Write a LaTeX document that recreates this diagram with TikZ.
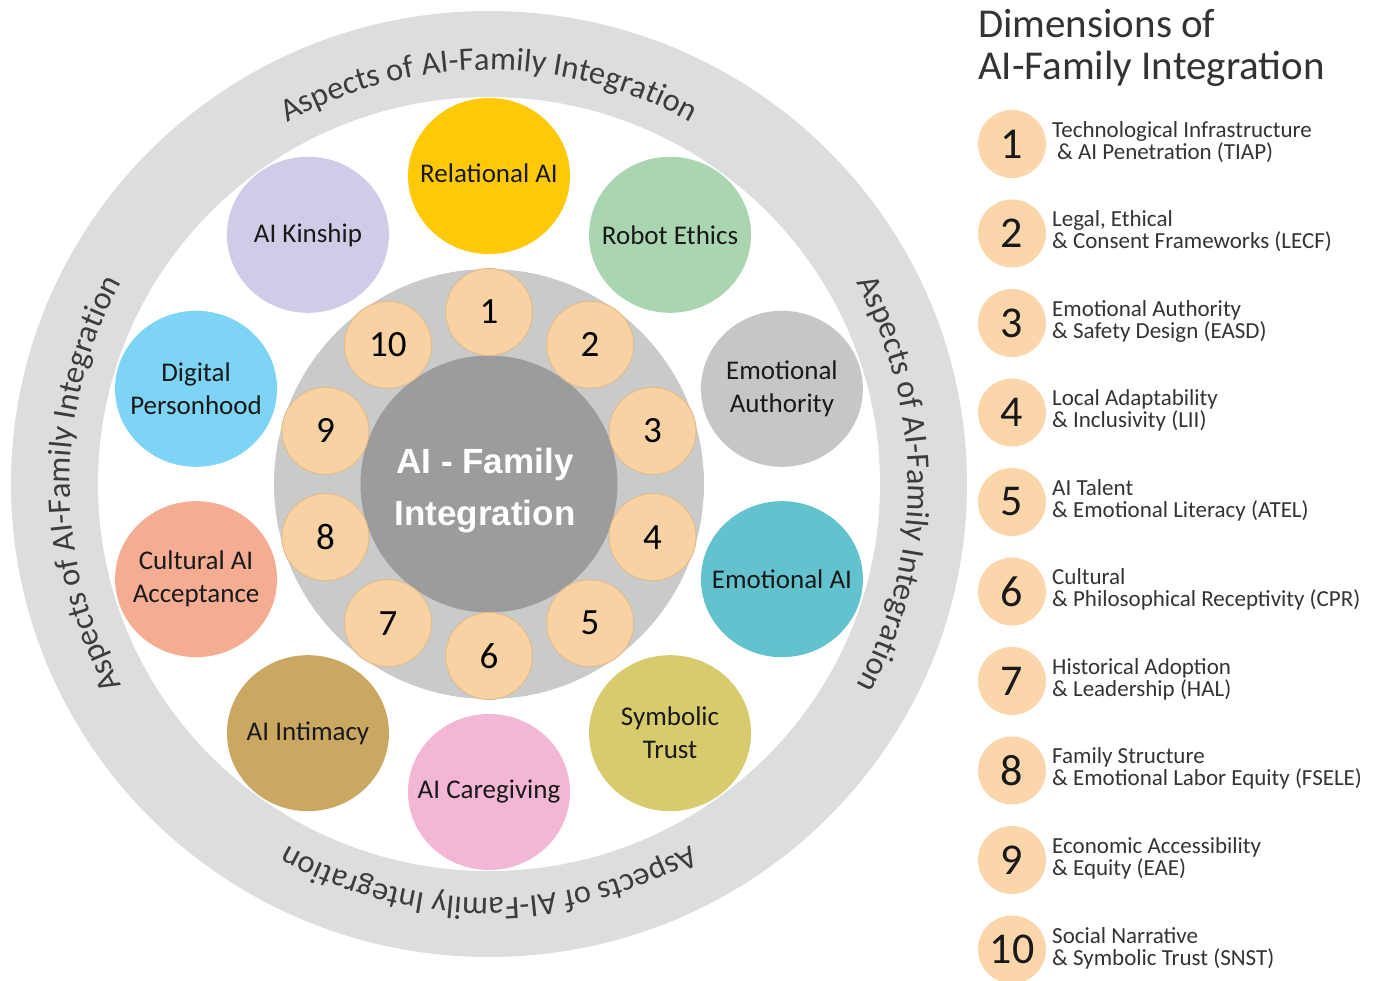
\documentclass[tikz,border=0pt]{standalone}
\usepackage{fontspec}
\setmainfont{Carlito}
\newfontfamily\arialfont{Liberation Sans}
\usetikzlibrary{decorations.text,calc,shapes.geometric}
\definecolor{ringgray}{HTML}{DCDDDD}
\definecolor{diskgray}{HTML}{C9CACA}
\definecolor{coregray}{HTML}{9C9C9C}
\definecolor{peach}{HTML}{F8D2A2}
\definecolor{peachedge}{HTML}{E3BC8E}
\definecolor{legpeach}{HTML}{FAD6AA}
\definecolor{ringtext}{HTML}{3C3C3C}
\definecolor{legtext}{HTML}{333333}
\definecolor{cRel}{HTML}{FFC907}
\definecolor{cRob}{HTML}{A9D6B0}
\definecolor{cEmA}{HTML}{C6C6C6}
\definecolor{cEmo}{HTML}{62C3CE}
\definecolor{cSym}{HTML}{D8CB6E}
\definecolor{cCar}{HTML}{F3B6D5}
\definecolor{cInt}{HTML}{CBA862}
\definecolor{cCul}{HTML}{F4AD92}
\definecolor{cDig}{HTML}{7DD4F4}
\definecolor{cKin}{HTML}{D0CBE7}
\newcommand\ringfont{\fontsize{32.5}{32.5}\selectfont\color{ringtext}}
\newcommand\legitem[3]{%
  \pgfmathsetmacro\cy{980-144-89.5*(#1-1)}
  \node[legc] (L#1) at (1012,\cy) {#1};
  \node[legt] (L#1a) at (1052,\cy+6.5) {#2};
  \node[legt] (L#1b) at (1052,\cy-15.5) {#3};
}
\tikzset{
  numc/.style={circle, fill=peach, draw=peachedge, line width=1pt, minimum size=87pt, inner sep=0pt, font=\fontsize{37}{37}\selectfont},
  aspect/.style={ellipse, minimum width=162pt, minimum height=156pt, inner sep=0pt},
  aspectlbl/.style={align=center, inner sep=0pt, font=\fontsize{27}{33}\selectfont, text=black!90},
  legc/.style={circle, fill=legpeach, minimum size=68pt, inner sep=0pt, font=\fontsize{44}{44}\selectfont, text=black!90},
  legt/.style={anchor=base west, inner sep=0pt, font=\fontsize{23}{23}\selectfont, text=legtext},
  title/.style={anchor=base west, inner sep=0pt, font=\fontsize{41}{41}\selectfont, text=legtext},
  ringlabel/.style={decorate, decoration={text along path, text align=center, text={|\ringfont|Aspects of AI-Family Integration}}}
}
\begin{document}
\begin{tikzpicture}[x=1pt,y=1pt]
\useasboundingbox (0,0) rectangle (1378,980);
\coordinate (C) at (489,496);
% outer ring
\fill[ringgray] (C) ellipse [x radius=478, y radius=473];
\fill[white] (C) ellipse [x radius=391, y radius=387];
% ring texts
\path[ringlabel] ($(C)+(170:414)$) arc[start angle=170, end angle=10, radius=414];
\path[ringlabel] ($(C)+(80:419)$) arc[start angle=80, end angle=-80, radius=419];
\path[ringlabel] ($(C)+(-10:414)$) arc[start angle=-10, end angle=-170, radius=414];
\path[ringlabel] ($(C)+(260:419)$) arc[start angle=260, end angle=100, radius=419];
% aspect circles
\node[aspect, fill=cRel] (relai) at ($(C)+(90:308)$) {};
\node[aspect, fill=cRob] (robot) at ($(C)+(54:308)$) {};
\node[aspect, fill=cEmA] (emauth) at ($(C)+(18:308)$) {};
\node[aspect, fill=cEmo] (emai) at ($(C)+(-18:308)$) {};
\node[aspect, fill=cSym] (symb) at ($(C)+(-54:308)$) {};
\node[aspect, fill=cCar] (care) at ($(C)+(-90:308)$) {};
\node[aspect, fill=cInt] (intim) at ($(C)+(-126:308)$) {};
\node[aspect, fill=cCul] (cult) at ($(C)+(-162:308)$) {};
\node[aspect, fill=cDig] (digi) at ($(C)+(162:308)$) {};
\node[aspect, fill=cKin] (kin) at ($(C)+(126:308)$) {};
\node[aspectlbl] (relaiL) at ([yshift=3pt]relai.center) {Relational AI};
\node[aspectlbl] (robotL) at (robot.center) {Robot Ethics};
\node[aspectlbl] (emauthL) at (emauth.center) {Emotional\\Authority};
\node[aspectlbl] (emaiL) at (emai.center) {Emotional AI};
\node[aspectlbl] (symbL) at (symb.center) {Symbolic\\Trust};
\node[aspectlbl] (careL) at (care.center) {AI Caregiving};
\node[aspectlbl] (intimL) at (intim.center) {AI Intimacy};
\node[aspectlbl] (cultL) at (cult.center) {Cultural AI\\Acceptance};
\node[aspectlbl] (digiL) at (digi.center) {Digital\\Personhood};
\node[aspectlbl] (kinL) at (kin.center) {AI Kinship};
% central disk
\node[circle, fill=diskgray, minimum size=430pt, inner sep=0pt] (disk) at (C) {};
\node[circle, fill=coregray, minimum size=257pt, inner sep=0pt] (core) at (C) {};
\foreach \k in {1,...,10} {
  \node[numc] (n\k) at ($(C)+({90-36*(\k-1)}:172)$) {\k};
}
\node[align=center, text=white, font=\arialfont\bfseries\fontsize{35}{52}\selectfont] (coretext) at (485,489) {AI - Family\\Integration};
% legend
\node[title] (t1) at (978,942) {Dimensions of};
\node[title] (t2) at (978,900) {AI-Family Integration};
\legitem{1}{Technological Infrastructure}{\hspace{5pt}\& AI Penetration (TIAP)}
\legitem{2}{Legal, Ethical}{\& Consent Frameworks (LECF)}
\legitem{3}{Emotional Authority}{\& Safety Design (EASD)}
\legitem{4}{Local Adaptability}{\& Inclusivity (LII)}
\legitem{5}{AI Talent}{\& Emotional Literacy (ATEL)}
\legitem{6}{Cultural}{\& Philosophical Receptivity (CPR)}
\legitem{7}{Historical Adoption}{\& Leadership (HAL)}
\legitem{8}{Family Structure}{\& Emotional Labor Equity (FSELE)}
\legitem{9}{Economic Accessibility}{\& Equity (EAE)}
\legitem{10}{Social Narrative}{\& Symbolic Trust (SNST)}
\end{tikzpicture}
\end{document}
